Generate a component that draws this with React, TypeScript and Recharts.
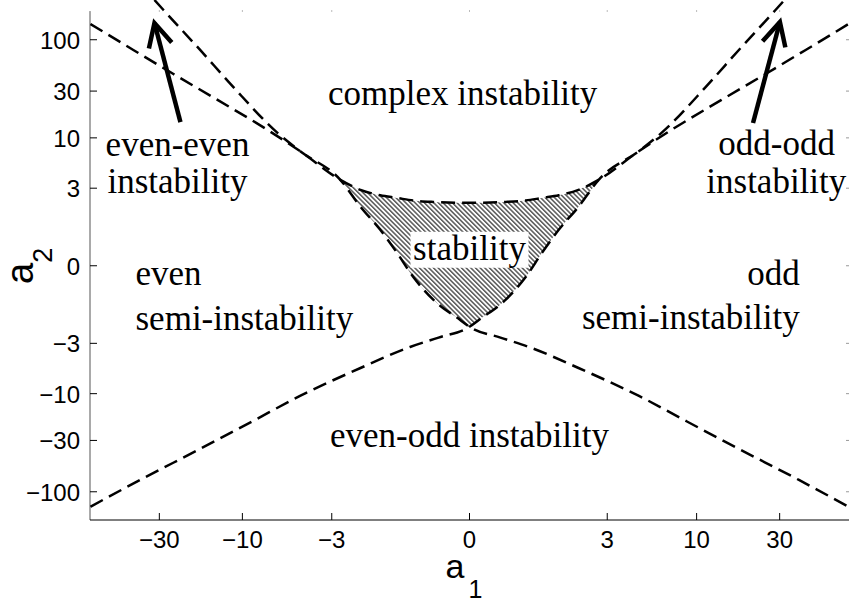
import React from "react";
import {Area, ComposedChart, Line, ReferenceDot, ReferenceLine, XAxis, YAxis} from "recharts";

// axis ticks (both axes are drawn on an asinh scale)
const xTickValues = [-30, -10, -3, 0, 3, 10, 30];
const yTickValues = [-100, -30, -10, -3, 0, 3, 10, 30, 100];

// upper boundary of the stability region, continuing to both top corners
const upperA1 = [-74.5, -42.3, -24.9, -13.9, -7.18, -4.62, -2.66, -1.99, -1.47, -1.11, -0.815, -0.497, 0,
  0.497, 0.815, 1.11, 1.47, 1.99, 2.66, 4.62, 7.18, 13.9, 24.9, 42.3, 74.5];
const upperA2 = [144.6, 78.7, 44.8, 24.4, 12.1, 7.3, 3.68, 2.88, 2.51, 2.35, 2.2, 2.12, 2.07,
  2.12, 2.2, 2.35, 2.51, 2.88, 3.68, 7.3, 12.1, 24.4, 44.8, 78.7, 144.6];

// steep branch from the upper left, through the crossing, out to the lower right
const leftBranchA1 = [-32, -28.4, -17.5, -11.3, -6.29, -4.62, -2.66, -1.99, -1.47, -1.11, -0.815, -0.497, -0.123, 0,
  0.42, 0.868, 1.99, 4.63, 8.68, 17.5, 38.7, 74.5];
const leftBranchA2 = [254, 200.7, 78.7, 33.1, 11.3, 7.3, 3.68, 1.87, 0.945, 0.309, -0.261, -0.882, -1.64, -1.97,
  -2.6, -3.28, -5.45, -10.55, -19.0, -36.6, -75.8, -142];

// steep branch from the upper right, through the crossing, out to the lower left
const rightBranchA1 = [-74.5, -38.7, -17.5, -8.68, -4.63, -1.99, -0.868, -0.42, 0, 0.123, 0.497, 0.815, 1.11, 1.47,
  1.99, 2.66, 4.62, 6.29, 11.3, 17.5, 28.4, 32];
const rightBranchA2 = [-142, -75.8, -36.6, -19.0, -10.55, -5.45, -3.28, -2.6, -1.97, -1.64, -0.882, -0.261, 0.309, 0.945,
  1.87, 3.68, 7.3, 11.3, 33.1, 78.7, 200.7, 254];

// hatched stability region
const stabilityA1 = [-2.66, -1.99, -1.47, -1.11, -0.815, -0.497, -0.123, 0, 0.123, 0.497, 0.815, 1.11, 1.47, 1.99, 2.66];
const stabilityLow = [3.68, 1.87, 0.945, 0.309, -0.261, -0.882, -1.64, -1.97, -1.64, -0.882, -0.261, 0.309, 0.945, 1.87, 3.68];
const stabilityHigh = [3.68, 2.88, 2.51, 2.35, 2.2, 2.12, 2.07, 2.07, 2.07, 2.12, 2.2, 2.35, 2.51, 2.88, 3.68];

// arrows
const arrowTailA1 = [-22.7, 21.1];
const arrowTailA2 = [14.5, 14.2];
const arrowTipA1 = [-32, 30.1];
const arrowTipA2 = [148, 151.7];

// region names
const regionText = ["complex instability", "even-even", "instability", "odd-odd", "instability", "even",
  "semi-instability", "odd", "semi-instability", "even-odd instability", "stability"];
const regionA1 = [-0.09, -23.6, -23.6, 28.8, 28.7, -41.1, -41.1, 39.1, 39.1, 0, 0];
const regionA2 = [21.7, 6.54, 2.67, 6.7, 2.67, -0.46, -2.17, -0.46, -2.07, -34.7, 0.141];
const regionAnchor = ["middle", "middle", "middle", "middle", "middle", "start", "start", "end", "end", "middle", "middle"];

const t = Math.asinh;
const X_DOMAIN: [number, number] = [-5.01, 5.01];
const Y_DOMAIN: [number, number] = [-5.96, 6.23];
const PLOT_RIGHT = 849;
const SANS = "'Liberation Sans', Arial, Helvetica, sans-serif";
const SERIF = "'Liberation Serif', 'Times New Roman', serif";

const toPoints = (a1: number[], a2: number[]) => a1.map((a, i) => ({x: t(a), y: t(a2[i])}));

const upperData = toPoints(upperA1, upperA2);
const leftBranchData = toPoints(leftBranchA1, leftBranchA2);
const rightBranchData = toPoints(rightBranchA1, rightBranchA2);
const stabilityData = stabilityA1.map((a, i) => ({x: t(a), range: [t(stabilityLow[i]), t(stabilityHigh[i])]}));

const fmt = (v: number) => (v < 0 ? "\u2212" + Math.abs(v) : String(v));
const findTick = (list: number[], value: number) => list.find(v => Math.abs(t(v) - value) < 1e-6) ?? 0;

function YTick(props: any) {
  const {x, y, payload} = props;
  return (
    <g>
      <line x1={x} x2={x + 7} y1={y} y2={y} stroke="#000"/>
      <line x1={PLOT_RIGHT - 3} x2={PLOT_RIGHT} y1={y} y2={y} stroke="#999"/>
      <text x={x - 10} y={y + 9} textAnchor="end" fontSize={24} fontFamily={SANS} fill="#000">
        {fmt(findTick(yTickValues, payload.value))}
      </text>
    </g>
  );
}

function XTick(props: any) {
  const {x, y, payload} = props;
  return (
    <g>
      <line x1={x} x2={x} y1={y} y2={y - 7} stroke="#000"/>
      <line x1={x} x2={x} y1={10} y2={12} stroke="#bbb"/>
      <text x={x} y={y + 28} textAnchor="middle" fontSize={24} fontFamily={SANS} fill="#000">
        {fmt(findTick(xTickValues, payload.value))}
      </text>
    </g>
  );
}

function renderXLabel(props: any) {
  const vb = props.viewBox;
  const x = vb.x + vb.width / 2 - 24;
  return (
    <text x={x} y={vb.y + 58} fontSize={34} fontFamily={SANS} fill="#000">
      <tspan>a</tspan>
      <tspan dx={4} dy={20} fontSize={25}>1</tspan>
    </text>
  );
}

function renderYLabel(props: any) {
  const vb = props.viewBox;
  const x = vb.x + 33;
  const y = vb.y + vb.height / 2 + 24;
  return (
    <text x={x} y={y} transform={`rotate(-90, ${x}, ${y})`} fontSize={38} fontFamily={SANS} fill="#000">
      <tspan>a</tspan>
      <tspan dy={19} fontSize={27}>2</tspan>
    </text>
  );
}

function Arrow(props: any) {
  const {x1, y1, x2, y2} = props;
  const len = Math.hypot(x2 - x1, y2 - y1);
  const ux = (x2 - x1) / len;
  const uy = (y2 - y1) / len;
  const head = 26;
  const ang = (27 * Math.PI) / 180;
  const barb = (s: number) => {
    const c = Math.cos(ang);
    const n = Math.sin(ang) * s;
    return [x2 - head * (ux * c - uy * n), y2 - head * (uy * c + ux * n)];
  };
  const [b1x, b1y] = barb(1);
  const [b2x, b2y] = barb(-1);
  return (
    <g>
      <line x1={x1} y1={y1} x2={x2} y2={y2} stroke="#000" strokeWidth={4.5}/>
      <path d={`M${b1x},${b1y} L${x2},${y2} L${b2x},${b2y}`} fill="none" stroke="#000" strokeWidth={4.5}/>
    </g>
  );
}

function regionLabel(index: number) {
  return (p: any) => {
    const text = regionText[index];
    const boxed = text === "stability";
    return (
      <g>
        {boxed && <rect x={p.cx - 59} y={p.cy - 28} width={118} height={36} fill="#fff"/>}
        <text x={p.cx} y={p.cy} textAnchor={regionAnchor[index]} fontSize={35} fontFamily={SERIF} fill="#000">
          {text}
        </text>
      </g>
    );
  };
}

export default function App() {
  const dashed = {
    type: "monotone" as const,
    dataKey: "y",
    stroke: "#000",
    strokeWidth: 2.5,
    strokeDasharray: "14 7",
    dot: false,
    activeDot: false,
    isAnimationActive: false,
  };

  return (
    <div style={{position: "absolute", left: 0, top: 0}}>
      <ComposedChart width={849} height={603} margin={{top: 0, right: 0, bottom: 0, left: 0}}>
        <defs>
          <pattern id="hatch" patternUnits="userSpaceOnUse" width={3.3} height={3.3} patternTransform="rotate(-45)">
            <line x1={1.6} y1={0} x2={1.6} y2={3.3} stroke="#000" strokeWidth={1}/>
          </pattern>
        </defs>
        <XAxis
          dataKey="x"
          type="number"
          domain={X_DOMAIN}
          allowDataOverflow
          ticks={xTickValues.map(t)}
          interval={0}
          height={83}
          tickLine={false}
          tickSize={0}
          tickMargin={0}
          tick={<XTick/>}
          axisLine={{stroke: "#000"}}
          label={renderXLabel}
        />
        <YAxis
          type="number"
          domain={Y_DOMAIN}
          allowDataOverflow
          ticks={yTickValues.map(t)}
          interval={0}
          width={90}
          tickLine={false}
          tickSize={0}
          tickMargin={0}
          tick={<YTick/>}
          axisLine={false}
          label={renderYLabel}
        />
        <ReferenceLine
          segment={[{x: X_DOMAIN[0], y: -5.96}, {x: X_DOMAIN[0], y: 5.97}]}
          stroke="#555"
          ifOverflow="visible"
        />
        <Area
          data={stabilityData}
          dataKey="range"
          type="monotone"
          stroke="none"
          fill="url(#hatch)"
          fillOpacity={1}
          activeDot={false}
          isAnimationActive={false}
        />
        <Line data={upperData} {...dashed}/>
        <Line data={leftBranchData} {...dashed}/>
        <Line data={rightBranchData} {...dashed}/>
        {arrowTailA1.map((a, i) => (
          <ReferenceLine
            key={`arrow-${i}`}
            segment={[{x: t(a), y: t(arrowTailA2[i])}, {x: t(arrowTipA1[i]), y: t(arrowTipA2[i])}]}
            ifOverflow="visible"
            shape={Arrow}
          />
        ))}
        {regionText.map((_, i) => (
          <ReferenceDot
            key={`region-${i}`}
            x={t(regionA1[i])}
            y={t(regionA2[i])}
            r={0}
            ifOverflow="visible"
            shape={regionLabel(i)}
          />
        ))}
      </ComposedChart>
    </div>
  );
}
